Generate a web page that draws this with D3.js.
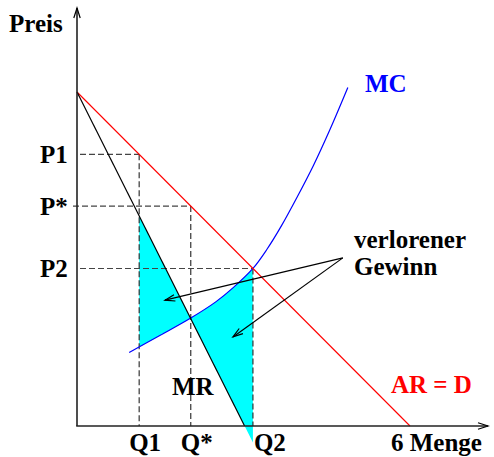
<!DOCTYPE html>
<html>
<head>
<meta charset="utf-8">
<script src="https://cdn.jsdelivr.net/npm/d3@7"></script>
<style>
  html, body { margin: 0; padding: 0; background: #fff; }
  svg text { font-family: "Liberation Serif", "Times New Roman", serif; font-weight: bold; font-size: 25px; }
</style>
</head>
<body>
<svg id="chart" width="494" height="457"></svg>
<script>
// Demand (AR = D) and marginal revenue, as (quantity, price) end points
const demand = [[0, 6], [6, 0]];
const marginalRevenue = [[0, 6], [3.02, 0]];

// Marginal cost curve
const mcQuantity = [0.94, 1.5, 2.05, 2.5, 2.82, 3.17, 3.42, 3.68, 3.96, 4.26, 4.56, 4.88];
const mcPrice    = [1.32, 1.63, 1.94, 2.23, 2.49, 2.83, 3.17, 3.59, 4.1, 4.68, 5.33, 6.08];

const quantityLabels = ["Q1", "Q*", "Q2"];
const quantityValues = [1.12, 2.05, 3.17];
const priceLabels = ["P1", "P*", "P2"];
const priceValues = [4.88, 3.95, 2.83];

// "verlorener Gewinn" pointer: common origin and the two targets
const pointerFrom = [4.79, 3.02];
const pointerTargets = [[1.585, 2.26], [2.81, 1.6]];

const svg = d3.select("#chart");
const x = d3.scaleLinear().domain([0, 6]).range([77, 410]);
const y = d3.scaleLinear().domain([0, 6]).range([426, 92]);

// stick arrowhead
svg.append("defs").append("marker")
  .attr("id", "stick")
  .attr("markerUnits", "userSpaceOnUse")
  .attr("markerWidth", 14).attr("markerHeight", 10)
  .attr("viewBox", "-12 -5 14 10")
  .attr("refX", 0).attr("refY", 0)
  .attr("orient", "auto")
  .append("path")
  .attr("d", "M-10,-3.2 L0,0 L-10,3.2")
  .attr("fill", "none").attr("stroke", "#000").attr("stroke-width", 1.2);

const mrAt = q => {
  const [a, b] = marginalRevenue;
  return a[1] + (q - a[0]) * (b[1] - a[1]) / (b[0] - a[0]);
};

const line = d3.line().x(d => x(d[0])).y(d => y(d[1]));
const mcData = mcQuantity.map((q, i) => [q, mcPrice[i]]);
const mcLine = d3.line().x(d => x(d[0])).y(d => y(d[1])).curve(d3.curveCatmullRom.alpha(0.5));

const fillLayer = svg.append("g");
const guideLayer = svg.append("g");
const curveLayer = svg.append("g");

// MC curve (drawn first so its shape can be sampled for the shaded areas)
const mcPath = curveLayer.append("path")
  .datum(mcData)
  .attr("d", mcLine)
  .attr("fill", "none")
  .attr("stroke", "#0000ff")
  .attr("stroke-width", 1.2);

const node = mcPath.node();
const total = node.getTotalLength();
const mcSamples = [];
for (let l = 0; l <= total; l += 0.5) {
  const p = node.getPointAtLength(l);
  mcSamples.push([p.x, p.y]);
}

const [q1, qStar, q2] = quantityValues;
const between = (a, b) => mcSamples.filter(p => p[0] >= x(a) && p[0] <= x(b));

// deadweight loss, left part: between MR (above) and MC (below) from Q1 to Q*
const leftArea = [
  [x(q1), y(mrAt(q1))],
  [x(qStar), y(mrAt(qStar))],
  ...between(q1, qStar).reverse()
];
// right part: between MC (above) and MR (below) from Q* to Q2
const rightArea = [
  ...between(qStar, q2),
  [x(q2), y(mrAt(q2))],
  [x(qStar), y(mrAt(qStar))]
];
fillLayer.selectAll("path.dwl")
  .data([leftArea, rightArea])
  .join("path")
  .attr("class", "dwl")
  .attr("d", d => "M" + d.map(p => p.join(",")).join("L") + "Z")
  .attr("fill", "#00ffff")
  .attr("stroke", "none");

// dashed guide lines from each price to its quantity
quantityValues.forEach((q, i) => {
  const p = priceValues[i];
  guideLayer.append("line")
    .attr("x1", x(0) + (i === 1 ? -4 : 3)).attr("x2", x(q))
    .attr("y1", y(p)).attr("y2", y(p))
    .attr("stroke", "#444").attr("stroke-width", 1.1)
    .attr("stroke-dasharray", "6,3");
  guideLayer.append("line")
    .attr("x1", x(q)).attr("x2", x(q))
    .attr("y1", y(p)).attr("y2", y(0))
    .attr("stroke", "#222").attr("stroke-width", 1.1)
    .attr("stroke-dasharray", "6,3");
});

// demand and marginal revenue
curveLayer.append("path").datum(demand).attr("d", line)
  .attr("fill", "none").attr("stroke", "#ff0000").attr("stroke-width", 1.1);
curveLayer.append("path").datum(marginalRevenue).attr("d", line)
  .attr("fill", "none").attr("stroke", "#000").attr("stroke-width", 1.2);

// axes
svg.append("line")
  .attr("x1", x(0)).attr("y1", y(0)).attr("x2", x(0)).attr("y2", 8)
  .attr("stroke", "#222").attr("stroke-width", 1.6).attr("marker-end", "url(#stick)");
svg.append("line")
  .attr("x1", x(0) - 0.8).attr("y1", y(0)).attr("x2", 488).attr("y2", y(0))
  .attr("stroke", "#222").attr("stroke-width", 1.6).attr("marker-end", "url(#stick)");

// pointers to the shaded areas
pointerTargets.forEach(t => {
  svg.append("line")
    .attr("x1", x(pointerFrom[0])).attr("y1", y(pointerFrom[1]))
    .attr("x2", x(t[0])).attr("y2", y(t[1]))
    .attr("stroke", "#000").attr("stroke-width", 1.2)
    .attr("marker-end", "url(#stick)");
});

// labels
const text = (s, tx, ty, color) => svg.append("text")
  .attr("x", tx).attr("y", ty).attr("fill", color || "#000").text(s);

text("Preis", 9, 32);
priceLabels.forEach((s, i) => text(s, 40, y(priceValues[i]) + 9));
const qOffsets = [-10, -10, 1];
quantityLabels.forEach((s, i) => text(s, x(quantityValues[i]) + qOffsets[i], y(0) + 25));
text("6 Menge", 391, y(0) + 25);
text("MR", 172, 395);
text("AR = D", 391, 393, "#ff0000");
text("MC", 365, 92, "#0000ff");
text("verlorener", 354, 248);
text("Gewinn", 354, 275);
</script>
</body>
</html>
